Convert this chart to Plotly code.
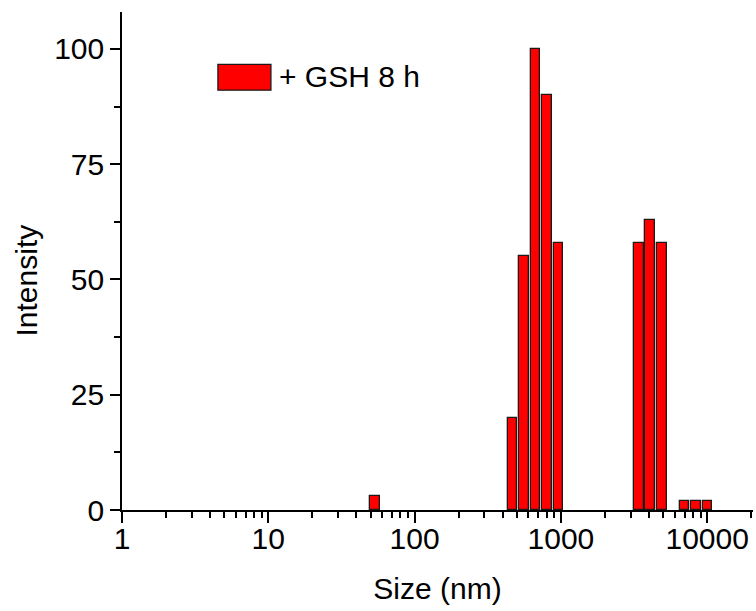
import numpy as np
import plotly.graph_objects as go

# Data
sizes_nm = [53.5, 467, 559, 670, 803, 962, 3405, 4079, 4887, 7014, 8403, 10067]
intensity = [3, 20, 55, 100, 90, 58, 58, 63, 58, 2, 2, 2]
series_name = "+ GSH 8 h"
x_tick_labels = ["1", "10", "100", "1000", "10000"]
y_tick_vals = [0, 25, 50, 75, 100]

FONT = "Liberation Sans, Arial, sans-serif"
FS = 30
BAR_W = 0.0656  # width in decades

xlog = np.log10(sizes_nm)
major_x = [float(i) for i in range(len(x_tick_labels))]
minor_x = [np.log10(k * 10 ** d) for d in range(0, 5) for k in range(2, 10) if np.log10(k * 10 ** d) <= 4.31]

fig = go.Figure()
fig.add_trace(go.Bar(
    x=xlog, y=intensity, width=BAR_W, name=series_name,
    marker=dict(color="#FF0000", line=dict(color="#1a1a1a", width=1.3)),
    showlegend=False,
))

fig.update_layout(
    width=756, height=611,
    margin=dict(l=122, r=3, t=12, b=101),
    paper_bgcolor="white", plot_bgcolor="white",
    font=dict(family=FONT, size=FS, color="black"),
    xaxis=dict(
        range=[0, 4.313], showgrid=False, zeroline=False, automargin=False,
        showline=True, linecolor="black", linewidth=1.6,
        tickmode="array", tickvals=major_x, ticktext=x_tick_labels,
        ticks="outside", ticklen=11, tickwidth=1.6, tickcolor="black",
        ticklabelstandoff=-10,
        minor=dict(tickmode="array", tickvals=minor_x, ticks="outside",
                   ticklen=6, tickwidth=1.6, tickcolor="black"),
        title=dict(text="Size (nm)", font=dict(size=FS), standoff=24),
        tickfont=dict(size=FS),
    ),
    yaxis=dict(
        range=[0, 108], showgrid=False, zeroline=False, automargin=False,
        showline=True, linecolor="black", linewidth=1.6,
        tickmode="array", tickvals=y_tick_vals,
        ticks="outside", ticklen=10, tickwidth=1.6, tickcolor="black",
        minor=dict(tickmode="array", tickvals=[12.5, 37.5, 62.5, 87.5],
                   ticks="outside", ticklen=6, tickwidth=1.6, tickcolor="black"),
        tickfont=dict(size=FS),
    ),
    bargap=0,
)

# Y-axis title (placed slightly below centre, as in the reference)
fig.add_annotation(xref="paper", yref="paper", x=-0.152, y=0.461,
                   xanchor="center", yanchor="middle", showarrow=False,
                   textangle=-90, text="Intensity",
                   font=dict(family=FONT, size=FS, color="black"))

# Manual legend (box + label)
fig.add_shape(type="rect", xref="paper", yref="paper",
              x0=0.152, x1=0.236, y0=0.843, y1=0.895,
              fillcolor="#FF0000", line=dict(color="#1a1a1a", width=1.3))
fig.add_annotation(xref="paper", yref="paper", x=0.245, y=0.871,
                   xanchor="left", yanchor="middle", showarrow=False,
                   text=series_name, font=dict(family=FONT, size=FS, color="black"))

fig.write_html(
    "out.html",
    config={"displayModeBar": False},
    post_script="document.body.style.margin='0';document.body.style.overflow='hidden';",
)
